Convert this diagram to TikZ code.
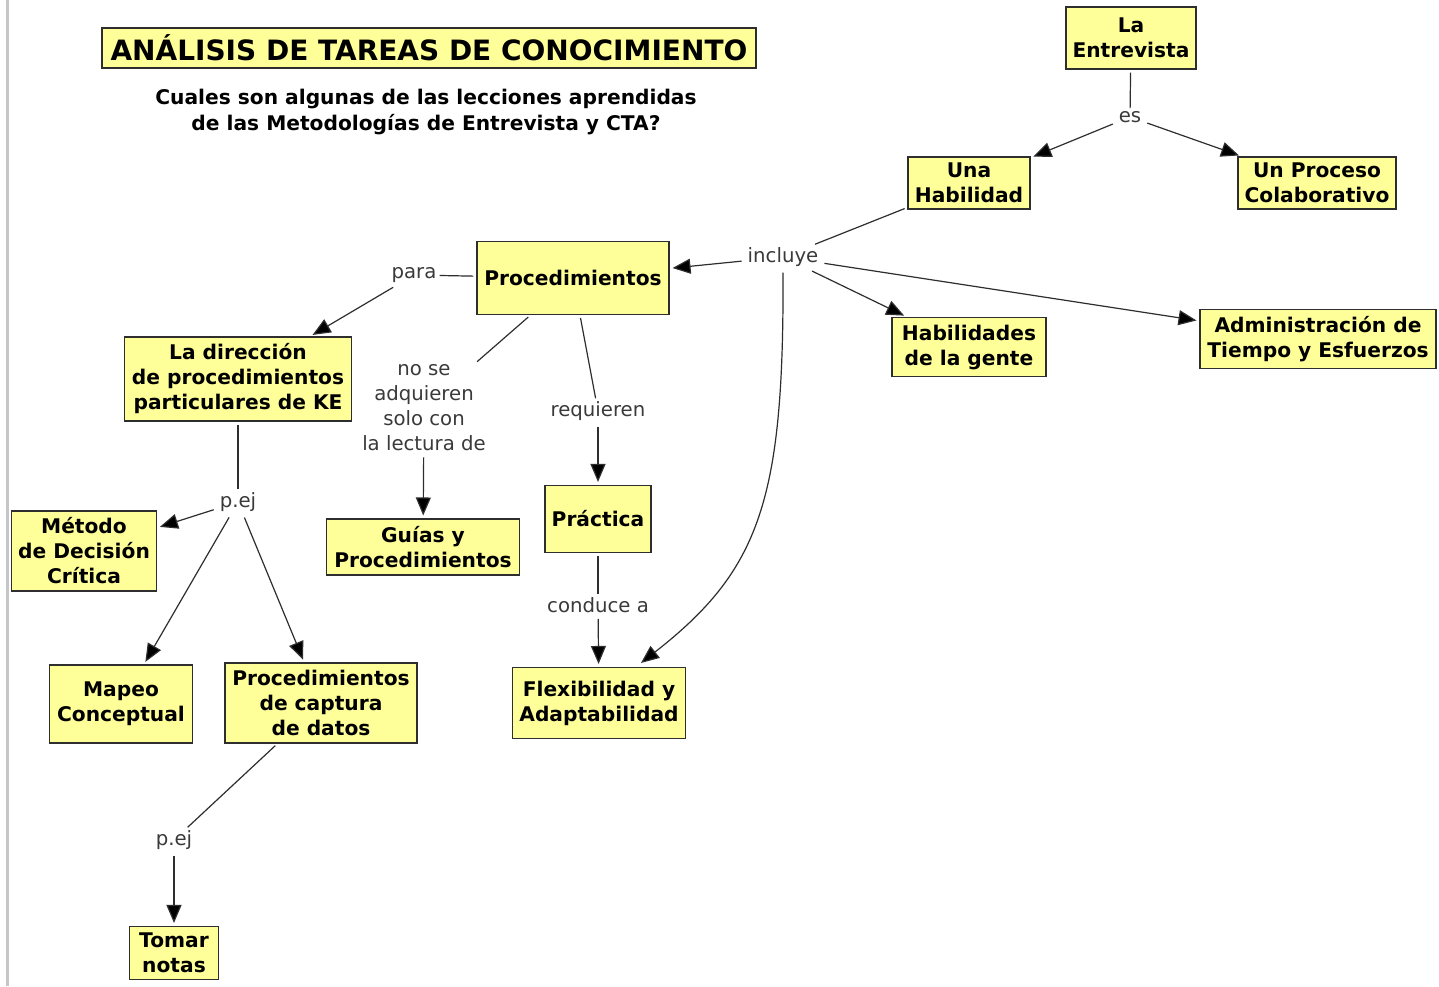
\documentclass[tikz,border=0pt]{standalone}
\usepackage{fontspec}
\setmainfont{DejaVu Sans}
\usetikzlibrary{arrows.meta,calc}

\definecolor{amarillo}{HTML}{FFFF99}
\definecolor{borde}{HTML}{2E2E2E}
\definecolor{gristexto}{HTML}{3A3A3A}

\begin{document}
\begin{tikzpicture}[x=1pt,y=-1pt,
	concepto/.style={draw=borde, fill=amarillo, line width=1.1pt, align=center,
		inner sep=2pt, font=\bfseries\fontsize{20.2}{25}\selectfont},
	enlace/.style={text=gristexto, align=center, inner sep=3pt,
		font=\fontsize{19.7}{25}\selectfont},
	linea/.style={draw=borde, line width=1.2pt, shorten <=3pt},
	flecha/.style={linea, shorten >=3pt, -{Triangle[length=18pt,width=15pt,fill=black]}}]

% canvas %{{{2

	\fill[white] (0,0) rectangle (1439,986);
	\useasboundingbox (0,0) rectangle (1439,986);
	\draw[gray!45, line width=3pt] (7.5,0) -- (7.5,986);

% title %{{{2

	\node[concepto, font=\bfseries\fontsize{28}{30}\selectfont,
		minimum width=654, minimum height=40] (titulo) at (429,48)
		{ANÁLISIS DE TAREAS DE CONOCIMIENTO};

	\node[align=center, font=\bfseries\fontsize{20.2}{25}\selectfont] (pregunta) at (426,112)
		{Cuales son algunas de las lecciones aprendidas\\de las Metodologías de Entrevista y CTA?};

% concepts %{{{2

	\node[concepto, minimum width=130, minimum height=62] (entrevista) at (1131,38) {La\\Entrevista};
	\node[concepto, minimum width=122, minimum height=52] (habilidad)  at (969,183)  {Una\\Habilidad};
	\node[concepto, minimum width=158, minimum height=52] (proceso)    at (1317,183) {Un Proceso\\Colaborativo};

	\node[concepto, minimum width=192, minimum height=73] (proc)   at (573,278)  {Procedimientos};
	\node[concepto, minimum width=154, minimum height=59] (gente)  at (969,347)  {Habilidades\\de la gente};
	\node[concepto, minimum width=236, minimum height=59] (admin)  at (1318,339) {Administración de\\Tiempo y Esfuerzos};

	\node[concepto, minimum width=227, minimum height=84] (direccion) at (238,379) {La dirección\\de procedimientos\\particulares de KE};
	\node[concepto, minimum width=193, minimum height=56] (guias)     at (423,547) {Guías y\\Procedimientos};
	\node[concepto, minimum width=106, minimum height=67] (practica)  at (598,519) {Práctica};
	\node[concepto, minimum width=173, minimum height=71] (flex)      at (599,703) {Flexibilidad y\\Adaptabilidad};

	\node[concepto, minimum width=145, minimum height=80] (metodo)  at (84,551)  {Método\\de Decisión\\Crítica};
	\node[concepto, minimum width=143, minimum height=78] (mapeo)   at (121,704) {Mapeo\\Conceptual};
	\node[concepto, minimum width=192, minimum height=80] (captura) at (321,703) {Procedimientos\\de captura\\de datos};
	\node[concepto, minimum width=89,  minimum height=53] (notas)   at (174,953) {Tomar\\notas};

% linking phrases %{{{2

	\node[enlace] (es)        at (1130,117) {es};
	\node[enlace] (incluye)   at (783,257)  {incluye};
	\node[enlace] (para)      at (414,275)  {para};
	\node[enlace] (nose)      at (424,408)  {no se\\adquieren\\solo con\\la lectura de};
	\node[enlace] (requieren) at (598,411)  {requieren};
	\node[enlace] (conduce)   at (598,605)  {conduce a};
	\node[enlace] (pejA)      at (238,502)  {p.ej};
	\node[enlace] (pejB)      at (174,840)  {p.ej};

% connectors %{{{2

	\draw[linea]  (entrevista) -- (es);
	\draw[flecha] (es) -- (habilidad);
	\draw[flecha] (es) -- (proceso);

	\draw[linea]  (habilidad) -- (incluye);
	\draw[flecha] (incluye) -- (proc);
	\draw[flecha] (incluye) -- (gente);
	\draw[flecha] (incluye) -- (admin);

	% long bend down to Flexibilidad
	\coordinate (flexpunta) at ($(flex.north)+(42,-4)$);
	\draw[flecha, shorten >=0pt] (incluye.south) .. controls (784,500) and (760,570) .. (flexpunta);

	\draw[linea]  (proc) -- (para);
	\draw[flecha] (para) -- (direccion);
	\draw[linea]  (proc) -- (nose);
	\draw[flecha] (nose) -- (guias);
	\draw[linea]  (proc) -- (requieren);
	\draw[flecha] (requieren) -- (practica);
	\draw[linea]  (practica) -- (conduce);
	\draw[flecha] (conduce) -- (flex);

	\draw[linea]  (direccion) -- (pejA);
	\draw[flecha] (pejA) -- (metodo);
	\draw[flecha] (pejA) -- (mapeo);
	\draw[flecha] (pejA) -- (captura);

	\draw[linea]  (captura) -- (pejB);
	\draw[flecha] (pejB) -- (notas);

% closing %{{{2

\end{tikzpicture}
\end{document}
